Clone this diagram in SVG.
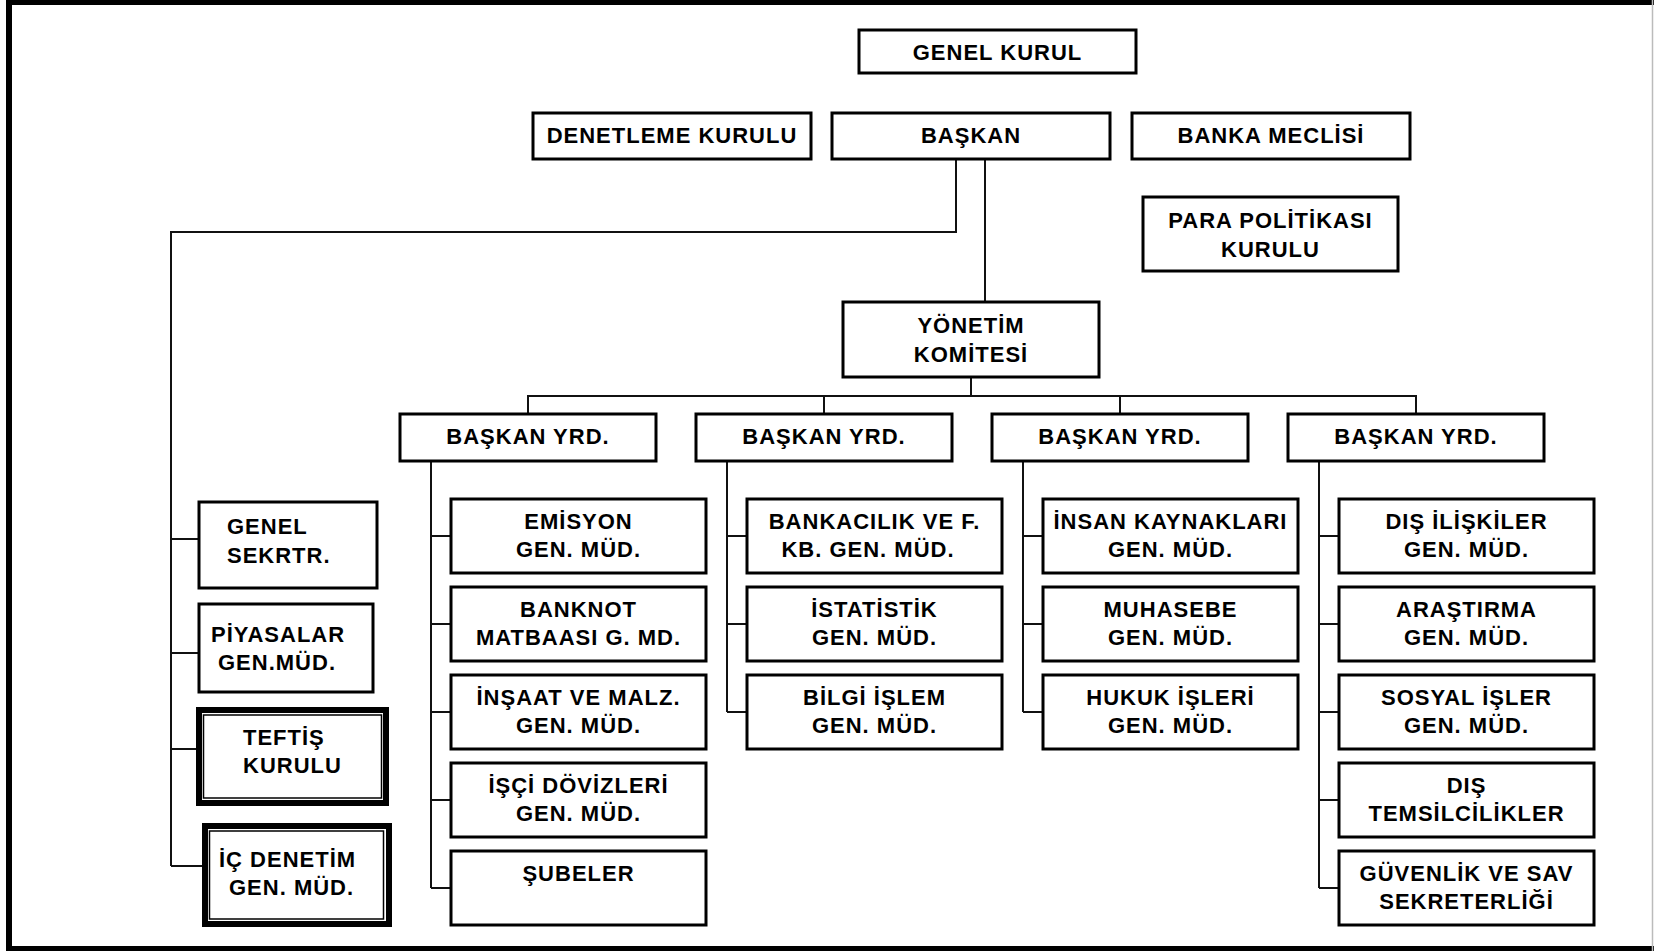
<svg xmlns="http://www.w3.org/2000/svg" width="1654" height="951" viewBox="0 0 1654 951">
  <style>
    .box { fill: #fff; stroke: #000; stroke-width: 3; }
    .thick { fill: #fff; stroke: #000; stroke-width: 6; }
    .thin { fill: none; stroke: #000; stroke-width: 1.5; }
    .wire { fill: none; stroke: #111; stroke-width: 2; }
    text { font-family: "Liberation Sans", Arial, sans-serif; font-weight: bold; font-size: 22px; letter-spacing: 1px; fill: #000; }
    .c { text-anchor: middle; }
  </style>

  <rect x="0" y="0" width="1654" height="951" fill="#fff"/>

  <!-- page frame -->
  <g id="frame">
    <line x1="6" y1="2.5" x2="1654" y2="2.5" stroke="#000" stroke-width="5"/>
    <line x1="9" y1="0" x2="9" y2="951" stroke="#000" stroke-width="6"/>
    <line x1="6" y1="948.5" x2="1654" y2="948.5" stroke="#000" stroke-width="5"/>
    <line x1="1652.5" y1="0" x2="1652.5" y2="951" stroke="#bbb" stroke-width="1.5"/>
  </g>

  <!-- connectors -->
  <g id="connectors" class="wire">
    <polyline points="956,159 956,232 171,232 171,866"/>
    <line x1="171" y1="539" x2="199" y2="539"/>
    <line x1="171" y1="653" x2="199" y2="653"/>
    <line x1="171" y1="749" x2="196" y2="749"/>
    <line x1="171" y1="866" x2="202" y2="866"/>
    <line x1="985" y1="159" x2="985" y2="302"/>
    <line x1="971" y1="377" x2="971" y2="396"/>
    <polyline points="528,414 528,396 1416,396 1416,414"/>
    <line x1="824" y1="396" x2="824" y2="414"/>
    <line x1="1120" y1="396" x2="1120" y2="414"/>
    <!-- column spines -->
    <path d="M431,461 V888 M431,536 H451 M431,624 H451 M431,712 H451 M431,800 H451 M431,888 H451"/>
    <path d="M727,461 V712 M727,536 H747 M727,624 H747 M727,712 H747"/>
    <path d="M1023,461 V712 M1023,536 H1043 M1023,624 H1043 M1023,712 H1043"/>
    <path d="M1319,461 V888 M1319,536 H1339 M1319,624 H1339 M1319,712 H1339 M1319,800 H1339 M1319,888 H1339"/>
  </g>

  <!-- top level -->
  <g id="genel-kurul">
    <rect class="box" x="859" y="30" width="277" height="43"/>
    <text class="c" x="997.5" y="60">GENEL KURUL</text>
  </g>
  <g id="denetleme-kurulu">
    <rect class="box" x="533" y="113" width="278" height="46"/>
    <text class="c" x="672" y="143">DENETLEME KURULU</text>
  </g>
  <g id="baskan">
    <rect class="box" x="832" y="113" width="278" height="46"/>
    <text class="c" x="971" y="143">BAŞKAN</text>
  </g>
  <g id="banka-meclisi">
    <rect class="box" x="1132" y="113" width="278" height="46"/>
    <text class="c" x="1271" y="143">BANKA MECLİSİ</text>
  </g>
  <g id="para-politikasi">
    <rect class="box" x="1143" y="197" width="255" height="74"/>
    <text class="c" x="1270.5" y="228">PARA POLİTİKASI</text>
    <text class="c" x="1270.5" y="257">KURULU</text>
  </g>
  <g id="yonetim-komitesi">
    <rect class="box" x="843" y="302" width="256" height="75"/>
    <text class="c" x="971" y="333">YÖNETİM</text>
    <text class="c" x="971" y="362">KOMİTESİ</text>
  </g>

  <!-- vice presidents -->
  <g id="yrd-1">
    <rect class="box" x="400" y="414" width="256" height="47"/>
    <text class="c" x="528" y="444">BAŞKAN YRD.</text>
  </g>
  <g id="yrd-2">
    <rect class="box" x="696" y="414" width="256" height="47"/>
    <text class="c" x="824" y="444">BAŞKAN YRD.</text>
  </g>
  <g id="yrd-3">
    <rect class="box" x="992" y="414" width="256" height="47"/>
    <text class="c" x="1120" y="444">BAŞKAN YRD.</text>
  </g>
  <g id="yrd-4">
    <rect class="box" x="1288" y="414" width="256" height="47"/>
    <text class="c" x="1416" y="444">BAŞKAN YRD.</text>
  </g>

  <!-- units attached directly to the president -->
  <g id="genel-sekreter">
    <rect class="box" x="199" y="502" width="178" height="86"/>
    <text x="227" y="534">GENEL</text>
    <text x="227" y="563">SEKRTR.</text>
  </g>
  <g id="piyasalar">
    <rect class="box" x="199" y="604" width="174" height="88"/>
    <text x="211" y="642">PİYASALAR</text>
    <text x="218" y="670">GEN.MÜD.</text>
  </g>
  <g id="teftis-kurulu">
    <rect class="thick" x="199" y="710" width="187" height="93"/>
    <rect class="thin" x="203.5" y="715" width="178" height="83"/>
    <text x="243" y="745">TEFTİŞ</text>
    <text x="243" y="773">KURULU</text>
  </g>
  <g id="ic-denetim">
    <rect class="thick" x="205" y="826" width="184" height="98"/>
    <rect class="thin" x="209.5" y="831" width="174" height="88"/>
    <text x="219" y="867">İÇ DENETİM</text>
    <text x="229" y="895">GEN. MÜD.</text>
  </g>

  <!-- column 1 -->
  <g id="emisyon">
    <rect class="box" x="451" y="499" width="255" height="74"/>
    <text class="c" x="578.5" y="529">EMİSYON</text>
    <text class="c" x="578.5" y="557">GEN. MÜD.</text>
  </g>
  <g id="banknot">
    <rect class="box" x="451" y="587" width="255" height="74"/>
    <text class="c" x="578.5" y="617">BANKNOT</text>
    <text class="c" x="578.5" y="645">MATBAASI G. MD.</text>
  </g>
  <g id="insaat">
    <rect class="box" x="451" y="675" width="255" height="74"/>
    <text class="c" x="578.5" y="705">İNŞAAT VE MALZ.</text>
    <text class="c" x="578.5" y="733">GEN. MÜD.</text>
  </g>
  <g id="isci-dovizleri">
    <rect class="box" x="451" y="763" width="255" height="74"/>
    <text class="c" x="578.5" y="793">İŞÇİ DÖVİZLERİ</text>
    <text class="c" x="578.5" y="821">GEN. MÜD.</text>
  </g>
  <g id="subeler">
    <rect class="box" x="451" y="851" width="255" height="74"/>
    <text class="c" x="578.5" y="881">ŞUBELER</text>
  </g>

  <!-- column 2 -->
  <g id="bankacilik">
    <rect class="box" x="747" y="499" width="255" height="74"/>
    <text class="c" x="874.5" y="529">BANKACILIK VE F.</text>
    <text class="c" x="868" y="557">KB. GEN. MÜD.</text>
  </g>
  <g id="istatistik">
    <rect class="box" x="747" y="587" width="255" height="74"/>
    <text class="c" x="874.5" y="617">İSTATİSTİK</text>
    <text class="c" x="874.5" y="645">GEN. MÜD.</text>
  </g>
  <g id="bilgi-islem">
    <rect class="box" x="747" y="675" width="255" height="74"/>
    <text class="c" x="874.5" y="705">BİLGİ İŞLEM</text>
    <text class="c" x="874.5" y="733">GEN. MÜD.</text>
  </g>

  <!-- column 3 -->
  <g id="insan-kaynaklari">
    <rect class="box" x="1043" y="499" width="255" height="74"/>
    <text class="c" x="1170.5" y="529">İNSAN KAYNAKLARI</text>
    <text class="c" x="1170.5" y="557">GEN. MÜD.</text>
  </g>
  <g id="muhasebe">
    <rect class="box" x="1043" y="587" width="255" height="74"/>
    <text class="c" x="1170.5" y="617">MUHASEBE</text>
    <text class="c" x="1170.5" y="645">GEN. MÜD.</text>
  </g>
  <g id="hukuk-isleri">
    <rect class="box" x="1043" y="675" width="255" height="74"/>
    <text class="c" x="1170.5" y="705">HUKUK İŞLERİ</text>
    <text class="c" x="1170.5" y="733">GEN. MÜD.</text>
  </g>

  <!-- column 4 -->
  <g id="dis-iliskiler">
    <rect class="box" x="1339" y="499" width="255" height="74"/>
    <text class="c" x="1466.5" y="529">DIŞ İLİŞKİLER</text>
    <text class="c" x="1466.5" y="557">GEN. MÜD.</text>
  </g>
  <g id="arastirma">
    <rect class="box" x="1339" y="587" width="255" height="74"/>
    <text class="c" x="1466.5" y="617">ARAŞTIRMA</text>
    <text class="c" x="1466.5" y="645">GEN. MÜD.</text>
  </g>
  <g id="sosyal-isler">
    <rect class="box" x="1339" y="675" width="255" height="74"/>
    <text class="c" x="1466.5" y="705">SOSYAL İŞLER</text>
    <text class="c" x="1466.5" y="733">GEN. MÜD.</text>
  </g>
  <g id="dis-temsilcilikler">
    <rect class="box" x="1339" y="763" width="255" height="74"/>
    <text class="c" x="1466.5" y="793">DIŞ</text>
    <text class="c" x="1466.5" y="821">TEMSİLCİLİKLER</text>
  </g>
  <g id="guvenlik">
    <rect class="box" x="1339" y="851" width="255" height="74"/>
    <text class="c" x="1466.5" y="881">GÜVENLİK VE SAV</text>
    <text class="c" x="1466.5" y="909">SEKRETERLİĞİ</text>
  </g>
</svg>
